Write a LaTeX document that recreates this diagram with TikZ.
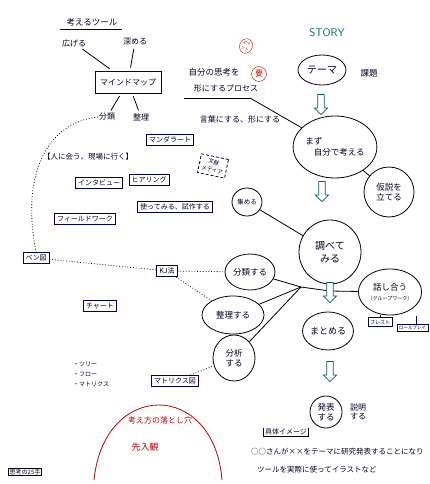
\documentclass[tikz,border=0pt]{standalone}
\usepackage{fontspec}
\newfontfamily\jp{Noto Sans CJK JP}
\usetikzlibrary{shapes.geometric,shapes.arrows}
\tikzset{
  jtext/.style={font=\jp\fontsize{8}{9.5}\selectfont, inner sep=1pt, align=center, text=black!85!blue},
  tool/.style={jtext, font=\jp\fontsize{7}{8.5}\selectfont, draw=blue!35!black, thick, inner sep=2.5pt},
  blob/.style={jtext, font=\jp\fontsize{8.5}{10.5}\selectfont, ellipse, draw, thick, inner sep=0pt},
  flow/.style={single arrow, draw=teal!75!black, thick, fill=white, shape border rotate=270,
    minimum height=20pt, minimum width=13pt, single arrow head extend=2.5pt, inner sep=2pt},
  hint/.style={jtext, text=red!75!black},
}
\begin{document}
\begin{tikzpicture}[x=1pt,y=-1pt]
  \useasboundingbox[fill=white] (0,0) rectangle (430,484);

  % tools: mind map
  \node[jtext, font=\jp\fontsize{8.5}{10}\selectfont] (tools) at (92,22) {考えるツール};
  \draw[thick, blue!35!black] ([xshift=-6pt,yshift=-2pt]tools.south west) -- ([xshift=4pt,yshift=-2pt]tools.south east);
  \node[jtext] (hiro) at (74,43) {広げる};
  \node[jtext] (fuka) at (135,42) {深める};
  \node[tool, minimum width=66pt, minimum height=22pt, font=\jp\fontsize{8}{9}\selectfont] (mmap) at (128,82) {マインドマップ};
  \node[jtext] (bunrui) at (107,117) {分類};
  \node[jtext] (seiri) at (141,117) {整理};
  \foreach \t in {hiro,fuka,bunrui,seiri}
    \draw[thick, shorten >=3pt, shorten <=2pt] (\t) -- (mmap);

  % process notes
  \node[jtext, font=\jp\fontsize{8.5}{10}\selectfont] (proc1) at (214,72) {自分の思考を};
  \node[jtext] (proc2) at (226,89) {形にするプロセス};
  \coordinate (procend) at (250,98);
  \draw[thick] (184,98) -- (procend);
  \node[jtext] (kotoba) at (240,119) {言葉にする、形にする};
  \node[hint, ellipse, draw=red!75!black, font=\jp\fontsize{4}{6}\selectfont, inner sep=0.5pt, rotate=-20] (point) at (246,46) {ポイ\\ント};
  \node[hint, circle, draw=red!75!black, inner sep=1.5pt] (kaname) at (259,74) {要};

  % tool boxes
  \node[tool] (mandara) at (170,140) {マンダラート};
  \node[jtext, font=\jp\fontsize{7.5}{9}\selectfont] (meet) at (88,157) {【人に会う、現場に行く】};
  \node[tool] (interview) at (99,183) {インタビュー};
  \node[tool] (hearing) at (149,180) {ヒアリング};
  \node[tool, densely dashed, rotate=-12, font=\jp\fontsize{5.5}{8}\selectfont, inner sep=3pt] (bunken) at (213,166) {文献\\メディア};
  \node[tool] (tsukau) at (175,207) {使ってみる、試作する};
  \node[tool] (field) at (85,219) {フィールドワーク};
  \node[tool] (venn) at (36,258) {ベン図};
  \node[tool] (kj) at (167,271) {KJ法};
  \node[tool] (chart) at (100,306) {チャート};
  \node[tool] (matrix) at (175,381) {マトリクス図};
  \foreach \t [count=\i] in {ツリー,フロー,マトリクス}
    \node[jtext, anchor=west, font=\jp\fontsize{6}{7}\selectfont] (list\i) at (72,354+10*\i) {・\t};
  \node[jtext, draw, thick, font=\jp\fontsize{6}{7}\selectfont] (te) at (25,472) {思考の25手};

  % dotted links
  \draw[thick, dotted] (bunrui.west) .. controls (50,122) and (20,170) .. (venn.north);
  \draw[thick, dotted] (venn) -- (kj);

  % story
  \node[font=\sffamily\fontsize{11}{12}\selectfont, text=teal!80!black] (story) at (327,33) {STORY};
  \node[blob, minimum width=48pt, minimum height=30pt, font=\jp\fontsize{10}{12}\selectfont] (theme) at (322,70) {テーマ};
  \node[jtext, font=\jp\fontsize{8.5}{10}\selectfont] (kadai) at (369,73) {課題};
  \node[flow] (a1) at (321,103) {};
  \node[blob, minimum width=80pt, minimum height=62pt, align=left] (mazu) at (335,147) {まず\\\quad 自分で考える};
  \draw[thick] (procend) -- (mazu);
  \node[flow] (a2) at (322,190) {};
  \node[blob, minimum width=50pt, minimum height=50pt] (kasetsu) at (389,192) {仮説を\\立てる};
  \draw[thick] (mazu) -- (kasetsu);
  \node[blob, minimum width=30pt, minimum height=28pt, font=\jp\fontsize{6.5}{8}\selectfont] (atsume) at (247,202) {集める};
  \node[blob, minimum width=62pt, minimum height=64pt, font=\jp\fontsize{10}{13}\selectfont] (shirabe) at (330,252) {調べて\\みる};
  \draw[thick] (atsume) -- (shirabe);
  \node[flow] (a3) at (330,291) {};
  \node[blob, minimum width=60pt, minimum height=46pt] (hanashi) at (390,292) {話し合う\\{\fontsize{5}{6}\selectfont （グループワーク）}};
  \draw[thick] (hanashi) -- (a3);
  \node[tool, font=\jp\fontsize{5}{6}\selectfont, inner sep=2pt] (brst) at (380,322) {ブレスト};
  \node[tool, font=\jp\fontsize{4.5}{5.5}\selectfont, inner sep=1.8pt, anchor=west] (role) at (397,328) {ロールプレイ};
  \draw[thick, blue!35!black] (brst) -- (brst |- hanashi.south);
  \draw[thick, blue!35!black] (role.north) ++(4,0) -- ++(0,-8);

  \node[blob, minimum width=50pt, minimum height=36pt] (bunrui2) at (250,272) {分類する};
  \node[blob, minimum width=62pt, minimum height=38pt] (seiri2) at (233,315) {整理する};
  \node[blob, minimum width=42pt, minimum height=46pt] (bunseki) at (234,358) {分析\\する};
  \coordinate (merge) at (301,287);
  \foreach \b in {bunrui2,seiri2,bunseki}
    \draw[thick] (\b) -- (merge);
  \draw[thick] (merge) -- (a3);
  \draw[thick, dotted] (kj) -- (bunrui2);
  \draw[thick, dotted] (kj) -- (seiri2);
  \draw[thick, dotted] (matrix) -- (bunseki);

  \node[blob, minimum width=50pt, minimum height=38pt, font=\jp\fontsize{9}{11}\selectfont] (matome) at (328,331) {まとめる};
  \node[flow] (a4) at (330,370) {};
  \node[blob, circle, minimum size=32pt] (happyo) at (326,412) {発表\\する};
  \node[jtext] (setsumei) at (358,412) {説明\\する};

  % concrete image
  \node[jtext, font=\jp\fontsize{7}{8}\selectfont] (gutai) at (286,432) {具体イメージ};
  \draw[thick] (gutai.north west) |- (gutai.south east) -- (gutai.north east);
  \node[jtext, anchor=west, font=\jp\fontsize{7.5}{9}\selectfont] (rei1) at (250,452) {○○さんが××をテーマに研究発表することになり};
  \node[jtext, anchor=west, font=\jp\fontsize{7.5}{9}\selectfont] (rei2) at (256,470) {ツールを実際に使ってイラストなど};

  % pitfalls
  \draw[thick, red!75!black] (94,480) .. controls (104,380) and (214,380) .. (222,480);
  \node[hint] (otoshi) at (160,420) {考え方の落とし穴};
  \node[hint, font=\jp\fontsize{9}{10}\selectfont] (sennyu) at (145,447) {先入観};
\end{tikzpicture}
\end{document}
